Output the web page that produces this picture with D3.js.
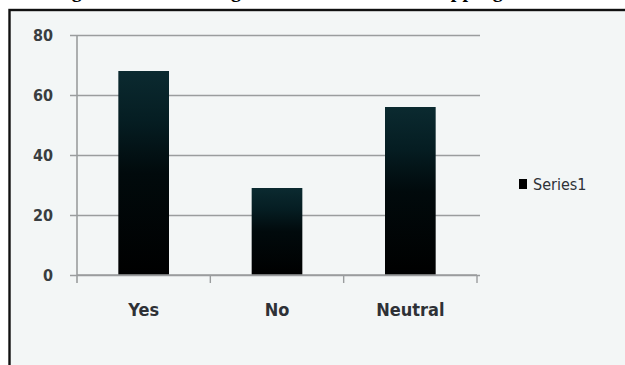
<!DOCTYPE html>
<html>
<head>
<meta charset="utf-8">
<script src="https://cdn.jsdelivr.net/npm/d3@7"></script>
<style>
  html, body { margin: 0; padding: 0; background: #ffffff; }
  svg { display: block; }
</style>
</head>
<body>
<svg id="chart" width="625" height="365"></svg>
<script>
// Survey responses
const categories = ["Yes", "No", "Neutral"];
const series1 = [68, 29, 56];
const yTicks = [0, 20, 40, 60, 80];
const seriesName = "Series1";
// Caption words, laid out in runs across the top
const titleParts = ["Figure 5:", "Preferring", "Online Mode for", "Shopping"];

const svg = d3.select("#chart");
const W = 625, H = 365;

// Figure caption (sits above the framed chart)
const captionFont = "'Liberation Serif', 'Times New Roman', serif";
const captionRuns = [
  { t: titleParts[0], x: 54, anchor: "start" },
  { t: titleParts[1], x: 241, anchor: "end" },
  { t: titleParts[2], x: 411, anchor: "end" },
  { t: titleParts[3], x: 416, anchor: "start" }
];
svg.append("g")
  .selectAll("text")
  .data(captionRuns)
  .join("text")
  .attr("x", d => d.x)
  .attr("y", -3)
  .attr("text-anchor", d => d.anchor)
  .attr("font-family", captionFont)
  .attr("font-weight", "bold")
  .attr("font-size", 20)
  .attr("letter-spacing", (d, i) => i === 3 ? 0.8 : 0)
  .attr("fill", "#000")
  .text(d => d.t);

// Framed chart panel
svg.append("rect")
  .attr("x", 9.5).attr("y", 10)
  .attr("width", W).attr("height", H)
  .attr("fill", "#f3f6f6")
  .attr("stroke", "#111")
  .attr("stroke-width", 2.4);

const plot = { left: 77, right: 477, top: 35, bottom: 275 };

const x = d3.scaleBand()
  .domain(categories)
  .range([plot.left, plot.right])
  .paddingInner(0).paddingOuter(0);

const y = d3.scaleLinear()
  .domain([0, 80])
  .range([plot.bottom, plot.top]);

// Bar fill: dark teal at the very top fading into black
const defs = svg.append("defs");
const grad = defs.append("linearGradient")
  .attr("id", "barFill")
  .attr("x1", 0).attr("y1", 0).attr("x2", 0).attr("y2", 1);
grad.append("stop").attr("offset", "0%").attr("stop-color", "#0b2a30");
grad.append("stop").attr("offset", "25%").attr("stop-color", "#051d22");
grad.append("stop").attr("offset", "50%").attr("stop-color", "#010a0c");
grad.append("stop").attr("offset", "100%").attr("stop-color", "#000000");

// Horizontal gridlines with tick stubs on the left
const labelFont = "'Liberation Sans Narrow', 'DejaVu Sans Condensed', 'Roboto', sans-serif";
const yAxis = d3.axisLeft(y)
  .tickValues(yTicks)
  .tickSize(-(plot.right + 3 - plot.left))
  .tickPadding(24)
  .tickFormat(d3.format("d"));

const gy = svg.append("g")
  .attr("transform", `translate(${plot.left},0)`)
  .call(yAxis);
gy.select(".domain").remove();
gy.selectAll(".tick line")
  .attr("x1", -7)
  .attr("stroke", "#9a9d9e")
  .attr("stroke-width", 1.6);
gy.selectAll(".tick text")
  .attr("fill", "#3a3d40")
  .attr("font-family", labelFont)
  .attr("font-weight", "bold")
  .attr("font-size", 16);

// Vertical axis line
svg.append("line")
  .attr("x1", plot.left).attr("x2", plot.left)
  .attr("y1", y(80)).attr("y2", plot.bottom + 8)
  .attr("stroke", "#9a9d9e")
  .attr("stroke-width", 1.6);

// Bars
const barFrac = 0.38;
svg.append("g")
  .selectAll("rect")
  .data(categories.map((c, i) => ({ c, v: series1[i] })))
  .join("rect")
  .attr("x", d => x(d.c) + x.bandwidth() * (1 - barFrac) / 2)
  .attr("width", x.bandwidth() * barFrac)
  .attr("y", d => y(d.v))
  .attr("height", d => y(0) - y(d.v))
  .attr("fill", "url(#barFill)");

// Category axis: baseline, boundary ticks and labels
const xAxis = d3.axisBottom(x).tickSize(0).tickPadding(28);
const gx = svg.append("g")
  .attr("transform", `translate(0,${plot.bottom})`)
  .call(xAxis);
gx.select(".domain")
  .attr("stroke", "#9a9d9e")
  .attr("stroke-width", 1.6)
  .attr("d", `M${plot.left},0H${plot.right}`);
gx.selectAll(".tick text")
  .attr("fill", "#2e3136")
  .attr("font-family", labelFont)
  .attr("font-weight", "bold")
  .attr("font-size", 18);

const boundaries = categories.map(c => x(c) + x.bandwidth());
svg.append("g")
  .selectAll("line")
  .data(boundaries)
  .join("line")
  .attr("x1", d => d).attr("x2", d => d)
  .attr("y1", plot.bottom).attr("y2", plot.bottom + 8)
  .attr("stroke", "#9a9d9e")
  .attr("stroke-width", 1.4);

// Legend
const legend = svg.append("g").attr("transform", "translate(519,184)");
legend.append("rect")
  .attr("x", 0).attr("y", -5)
  .attr("width", 8).attr("height", 10)
  .attr("fill", "#000");
legend.append("text")
  .attr("x", 14).attr("y", 0)
  .attr("dy", "0.35em")
  .attr("fill", "#2e3136")
  .attr("font-family", labelFont)
  .attr("font-size", 16)
  .text(seriesName);
</script>
</body>
</html>
